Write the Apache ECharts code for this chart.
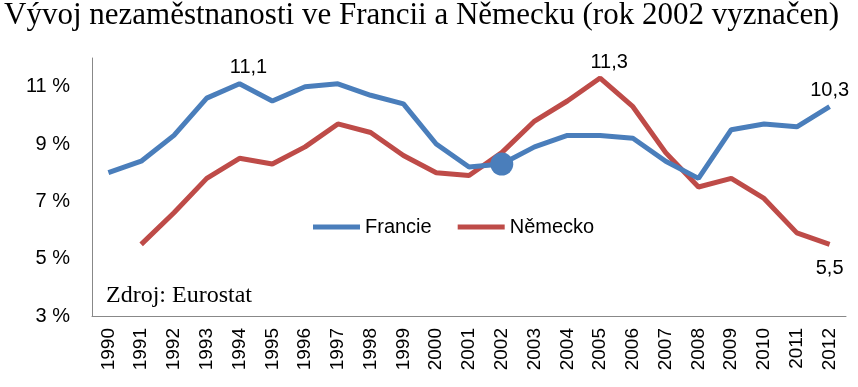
<!DOCTYPE html>
<html><head><meta charset="utf-8">
<script src="https://cdn.jsdelivr.net/npm/echarts@6/dist/echarts.min.js"></script>
<style>html,body{margin:0;padding:0;background:#fff}#c{width:858px;height:387px}</style>
</head><body><div id="c"></div>
<script>
const years = ['1990','1991','1992','1993','1994','1995','1996','1997','1998','1999','2000','2001','2002','2003','2004','2005','2006','2007','2008','2009','2010','2011','2012'];
const francie = [8.0,8.4,9.3,10.6,11.1,10.5,11.0,11.1,10.7,10.4,9.0,8.2,8.3,8.9,9.3,9.3,9.2,8.4,7.8,9.5,9.7,9.6,10.3];
const nemecko = [null,5.5,6.6,7.8,8.5,8.3,8.9,9.7,9.4,8.6,8.0,7.9,8.7,9.8,10.5,11.3,10.3,8.7,7.5,7.8,7.1,5.9,5.5];
const highlightYear = '2002';
const francieLabelsTop = ['1994','2012'];
const nemeckoLabelsTop = ['2005'];
const nemeckoLabelsBottom = ['2012'];
const yTicks = [3,5,7,9,11];

const fmt = v => String(v).replace('.', ',');
const labelStyle = {fontFamily:'Liberation Sans', fontSize:20, color:'#000'};

function build(vals, topList, bottomList, markYear, markSize) {
  return vals.map((v, i) => {
    const y = years[i];
    const item = {value: v};
    if (topList.includes(y)) item.label = Object.assign({show:true, position:'top', distance:6, formatter: p => fmt(p.value), offset: y==='2012'?[0,0]:[9,0]}, labelStyle);
    if (bottomList.includes(y)) item.label = Object.assign({show:true, position:'bottom', distance:14, formatter: p => fmt(p.value)}, labelStyle);
    if (y === markYear) item.symbolSize = markSize;
    return item;
  });
}

const chart = echarts.init(document.getElementById('c'), null, {renderer:'canvas'});
chart.setOption({
  animation:false,
  title:{text:'Vývoj nezaměstnanosti ve Francii a Německu (rok 2002 vyznačen)', left:4, top:0, padding:0,
    textStyle:{fontFamily:'Liberation Serif', fontSize:31, fontWeight:'normal', color:'#000'}},
  legend:{data:['Francie','Německo'], left:313, top:217, padding:0, itemWidth:47, itemHeight:5, itemGap:26, icon:'rect',
    textStyle:{fontFamily:'Liberation Sans', fontSize:20, color:'#000'}},
  graphic:[{type:'text', left:106, top:284, style:{text:'Zdroj: Eurostat', font:'24px "Liberation Serif"', fill:'#000'}}],
  grid:{left:92, right:12, top:58, bottom:71},
  xAxis:{type:'category', data:years, boundaryGap:true,
    axisLine:{lineStyle:{color:'#888', width:1}}, axisTick:{show:false},
    axisLabel:{rotate:90, interval:0, margin:12, fontFamily:'Liberation Sans', fontSize:19, color:'#000'}},
  yAxis:{type:'value', min:3, max:12, interval:1,
    axisLine:{show:true, lineStyle:{color:'#888', width:1}}, axisTick:{show:false}, splitLine:{show:false},
    axisLabel:{margin:22, fontFamily:'Liberation Sans', fontSize:20, color:'#000',
      formatter: v => yTicks.includes(v) ? v + ' %' : ''}},
  series:[
    {name:'Francie', type:'line', data:build(francie, francieLabelsTop, [], highlightYear, 23),
      symbol:'circle', symbolSize:0, showSymbol:true, showAllSymbol:true,
      lineStyle:{color:'#4A7EBB', width:5}, itemStyle:{color:'#4A7EBB'}, z:3},
    {name:'Německo', type:'line', data:build(nemecko, nemeckoLabelsTop, nemeckoLabelsBottom, null, 0),
      symbol:'circle', symbolSize:0, showSymbol:true, showAllSymbol:true, connectNulls:false,
      lineStyle:{color:'#BE4B48', width:5}, itemStyle:{color:'#BE4B48'}, z:2}
  ]
});
</script></body></html>
